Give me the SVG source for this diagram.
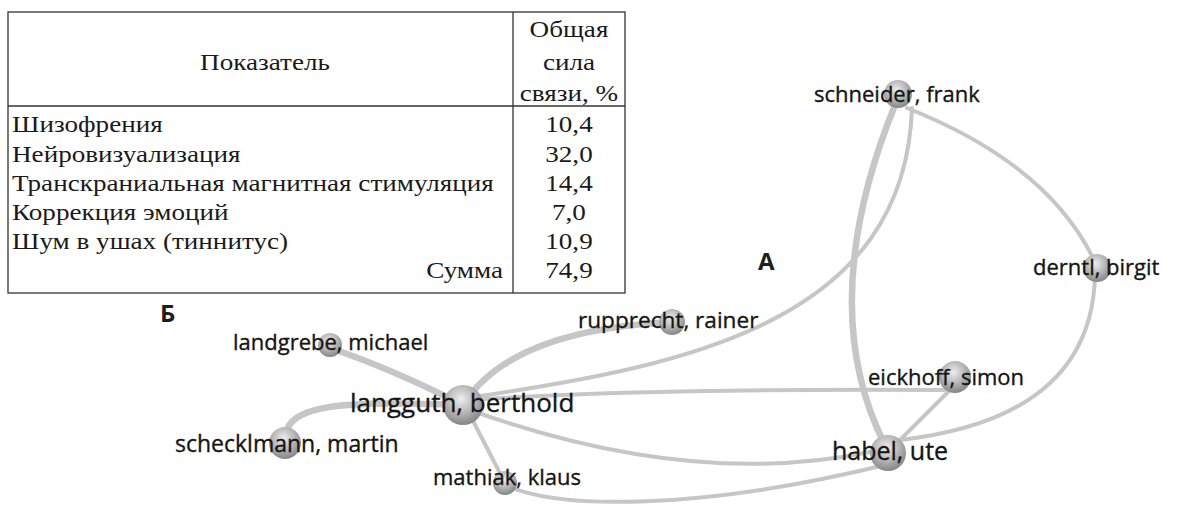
<svg xmlns="http://www.w3.org/2000/svg" width="1190" height="510" viewBox="0 0 1190 510">
<defs>
<radialGradient id="sph" cx="45%" cy="35%" r="65%">
<stop offset="0" stop-color="#ededed"/>
<stop offset="0.6" stop-color="#b0b0b0"/>
<stop offset="1" stop-color="#858585"/>
</radialGradient>
</defs>
<style>
.tb{font-family:"Liberation Serif","Times New Roman",serif;font-size:23px;fill:#1a1a1a}
.c{text-anchor:middle}
.r{text-anchor:end}
.ln{stroke:#333;stroke-width:1.3;fill:none}
.e{fill:none;stroke:#c6c6c6;stroke-linecap:round;stroke-width:4}
.w{stroke-width:6.5}
.n{fill:url(#sph)}
.lb{font-family:"Open Sans","DejaVu Sans",sans-serif;font-size:22px;fill:#151515;stroke:#151515;stroke-width:0.35}
.big{font-size:26px}
.mid{font-size:25px}
.let{font-family:"Open Sans","DejaVu Sans",sans-serif;font-size:24px;font-weight:bold;fill:#1e1e1e}
</style>
<rect width="1190" height="510" fill="#ffffff"/>
<g id="table">
<rect class="ln" x="8" y="12" width="617" height="281"/>
<line class="ln" x1="8" y1="106" x2="625" y2="106"/>
<line class="ln" x1="513" y1="12" x2="513" y2="293"/>
<g transform="scale(1.18,1)">
<text class="tb c" x="224.6" y="70">Показатель</text>
<text class="tb c" x="482.2" y="37">Общая</text>
<text class="tb c" x="482.2" y="70">сила</text>
<text class="tb c" x="482.2" y="101">связи, %</text>
<text class="tb" x="10.2" y="132">Шизофрения</text>
<text class="tb" x="10.2" y="162">Нейровизуализация</text>
<text class="tb" x="10.2" y="191">Транскраниальная магнитная стимуляция</text>
<text class="tb" x="10.2" y="220">Коррекция эмоций</text>
<text class="tb" x="10.2" y="249">Шум в ушах (тиннитус)</text>
<text class="tb r" x="426.3" y="278">Сумма</text>
<text class="tb c" x="482.2" y="132">10,4</text>
<text class="tb c" x="482.2" y="162">32,0</text>
<text class="tb c" x="482.2" y="191">14,4</text>
<text class="tb c" x="482.2" y="220">7,0</text>
<text class="tb c" x="482.2" y="249">10,9</text>
<text class="tb c" x="482.2" y="278">74,9</text>
</g>
</g>
<g id="connectors">
<path class="e w" d="M895,105 Q814,305 885,445"/>
<path class="e" d="M480,396 C690,365 905,320 912,108"/>
<path class="e" d="M907,108 Q1046,163 1093,258"/>
<path class="e" d="M1095,275 Q1092,418 900,440"/>
<path class="e" d="M955,385 L900,440"/>
<path class="e" d="M470,400 Q640,388 955,390"/>
<path class="e" d="M470,410 Q690,489 870,452"/>
<path class="e" d="M470,415 L505,483"/>
<path class="e" d="M505,485 C560,510 700,510 885,465"/>
<path class="e w" d="M463,405 Q510,330 672,322"/>
<path class="e w" d="M330,348 Q390,368 463,405"/>
<path class="e w" d="M285,437 C288,405 340,400 460,405"/>
</g>
<g id="node-schneider"><circle class="n" cx="898" cy="94" r="14"/><text class="lb" x="814" y="102">schneider, frank</text></g>
<g id="node-derntl"><circle class="n" cx="1097" cy="268" r="14"/><text class="lb" x="1033" y="275">derntl, birgit</text></g>
<g id="node-rupprecht"><circle class="n" cx="672" cy="322" r="13"/><text class="lb" x="578" y="328" style="font-size:22.6px">rupprecht, rainer</text></g>
<g id="node-landgrebe"><circle class="n" cx="330" cy="345" r="12"/><text class="lb" x="233" y="350">landgrebe, michael</text></g>
<g id="node-langguth"><circle class="n" cx="463" cy="405" r="20"/><text class="lb big" x="350" y="412">langguth, berthold</text></g>
<g id="node-scheckl"><circle class="n" cx="285" cy="443" r="16"/><text class="lb" x="175" y="452" style="font-size:23px">schecklmann, martin</text></g>
<g id="node-mathiak"><circle class="n" cx="505" cy="483" r="12"/><text class="lb" x="433" y="485">mathiak, klaus</text></g>
<g id="node-eickhoff"><circle class="n" cx="955" cy="377" r="16"/><text class="lb" x="868" y="385">eickhoff, simon</text></g>
<g id="node-habel"><circle class="n" cx="888" cy="453" r="18"/><text class="lb mid" x="832" y="460">habel, ute</text></g>
<text class="let" x="758" y="270">А</text>
<text class="let" x="160" y="322">Б</text>
</svg>
